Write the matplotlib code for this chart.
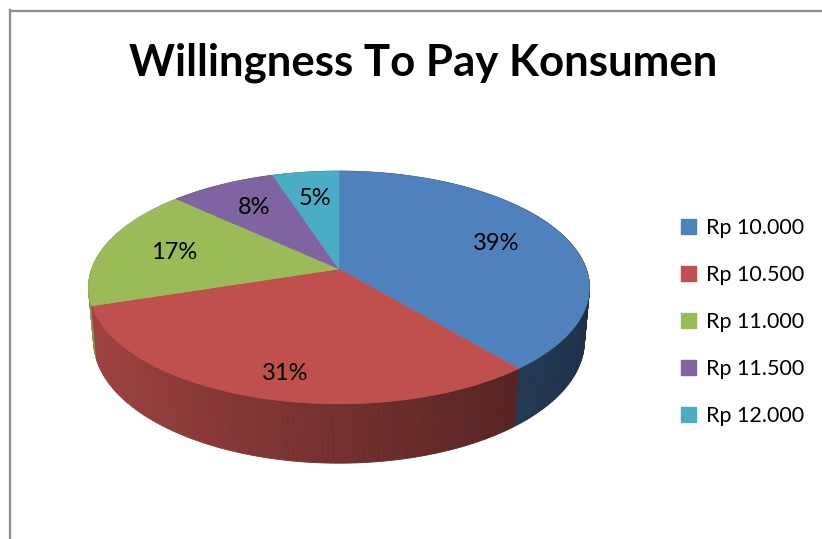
import numpy as np
import matplotlib
matplotlib.use("Agg")
import matplotlib.pyplot as plt
from matplotlib.patches import Polygon, Patch
from matplotlib.lines import Line2D
from matplotlib.colors import to_rgb

# ---------------- data ----------------
title = "Willingness To Pay Konsumen"
categories = ["Rp 10.000", "Rp 10.500", "Rp 11.000", "Rp 11.500", "Rp 12.000"]
shares = [39, 31, 17, 8, 5]
colors = ["#4F81BD", "#C0504D", "#9BBB59", "#8064A2", "#4BACC6"]

# ---------------- figure ----------------
W, H = 822, 539
fig = plt.figure(figsize=(W / 100, H / 100), dpi=100)
ax = fig.add_axes([0, 0, 1, 1])
ax.set_xlim(0, W)
ax.set_ylim(H, 0)
ax.axis("off")

# chart-area border (left and top visible)
fig.add_artist(Line2D([9.5 / W, 9.5 / W], [0, 1 - 10 / H], transform=fig.transFigure,
                      color="#8c8c8c", lw=1.6))
fig.add_artist(Line2D([9.5 / W, 1], [1 - 10.5 / H, 1 - 10.5 / H], transform=fig.transFigure,
                      color="#8c8c8c", lw=1.6))

# ---------------- 3D pie projection ----------------
CX, CY = 339.0, 269.0
S = 1385.0
D = 5.6
phi = np.deg2rad(27.3)
cphi, sphi = np.cos(phi), np.sin(phi)
HT = 0.245


def proj(x, y, z):
    depth = D - y * cphi - z * sphi
    u = x / depth
    v = (z * cphi - y * sphi) / depth
    return CX + S * u, CY - S * v


def rim(a, r=1.0, z=0.0):
    return proj(r * np.sin(a), -r * np.cos(a), z)


total = float(sum(shares))
bounds = np.concatenate([[0], np.cumsum(shares)]) / total * 2 * np.pi

# side segments
segs = []
for i, (a1, a2) in enumerate(zip(bounds[:-1], bounds[1:])):
    n = max(int(np.degrees(a2 - a1)), 2)
    ts = np.linspace(a1, a2, n + 1)
    for t0, t1 in zip(ts[:-1], ts[1:]):
        tm = 0.5 * (t0 + t1)
        xm, ym = np.sin(tm), -np.cos(tm)
        depth = D - ym * cphi
        pts = [rim(t0), rim(t1), rim(t1, z=-HT), rim(t0, z=-HT)]
        f = np.clip(0.6 - 0.24 * xm, 0.38, 0.86)
        col = tuple(np.array(to_rgb(colors[i])) * f)
        segs.append((depth, pts, col))
segs.sort(key=lambda s: -s[0])
for _, pts, col in segs:
    ax.add_patch(Polygon(pts, closed=True, facecolor=col, edgecolor=col, lw=0.6))

# top faces
for i, (a1, a2) in enumerate(zip(bounds[:-1], bounds[1:])):
    ts = np.linspace(a1, a2, 200)
    pts = [proj(0, 0, 0)] + [rim(t) for t in ts]
    ax.add_patch(Polygon(pts, closed=True, facecolor=colors[i], edgecolor=colors[i], lw=0.4))

# labels
LF = "Lato"
for i, (a1, a2) in enumerate(zip(bounds[:-1], bounds[1:])):
    am = 0.5 * (a1 + a2)
    near = max(0.0, -np.cos(am))
    px, py = rim(am, r=0.7, z=-0.35 * HT * near)
    ax.text(px, py, f"{shares[i]}%", ha="center", va="center", fontsize=17,
            family=LF, color="black")

# title
ax.text(423, 63, title, ha="center", va="center", fontsize=31.5, fontweight="bold",
        family=LF, color="black")

# legend
handles = [Patch(facecolor=c, edgecolor=c) for c in colors]
leg = ax.legend(handles, categories, loc="center left", frameon=False,
                bbox_to_anchor=(672 / W, 1 - 322 / H), bbox_transform=fig.transFigure,
                prop={"family": LF, "size": 15.5}, handlelength=0.72, handleheight=0.72,
                handletextpad=0.45, labelspacing=1.26, borderaxespad=0)

fig.savefig("out.png", dpi=100)
